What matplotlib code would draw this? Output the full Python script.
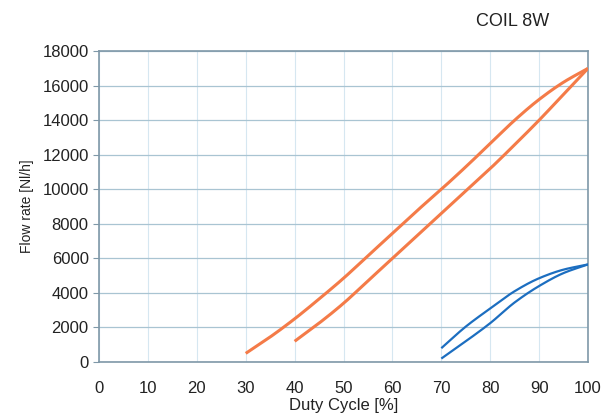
import matplotlib
matplotlib.use("Agg")
import matplotlib.pyplot as plt
import numpy as np

plt.rcParams['font.family'] = ['Liberation Sans', 'DejaVu Sans']

duty_orange_up = [30, 35, 40, 45, 50, 55, 60, 65, 70, 75, 80, 85, 90, 95, 100]
flow_orange_up = [500, 1450, 2500, 3650, 4850, 6150, 7450, 8750, 10000, 11300, 12650, 14000, 15200, 16200, 17000]
duty_orange_lo = [40, 45, 50, 55, 60, 65, 70, 75, 80, 85, 90, 95, 100]
flow_orange_lo = [1200, 2250, 3400, 4700, 6000, 7300, 8600, 9900, 11200, 12580, 14000, 15500, 17000]
duty_blue_up = [70, 75, 80, 85, 90, 95, 100]
flow_blue_up = [800, 2050, 3100, 4100, 4850, 5350, 5650]
duty_blue_lo = [70, 75, 80, 85, 90, 95, 100]
flow_blue_lo = [200, 1200, 2250, 3450, 4400, 5150, 5650]
x_ticks = [0, 10, 20, 30, 40, 50, 60, 70, 80, 90, 100]
y_ticks = [0, 2000, 4000, 6000, 8000, 10000, 12000, 14000, 16000, 18000]

orange = "#F47B48"
blue = "#1C6EC0"

fig = plt.figure(figsize=(6.04, 4.19), dpi=100)
ax = fig.add_axes([0.164, 0.136, 0.8095, 0.742])

def smooth(x, y):
    x = np.asarray(x, float); y = np.asarray(y, float)
    xs = np.linspace(x[0], x[-1], 200)
    h = np.diff(x); d = np.diff(y) / h
    m = np.zeros_like(y)
    m[0] = d[0]; m[-1] = d[-1]
    for i in range(1, len(y) - 1):
        if d[i-1] * d[i] <= 0:
            m[i] = 0
        else:
            w1 = 2*h[i] + h[i-1]; w2 = h[i] + 2*h[i-1]
            m[i] = (w1 + w2) / (w1/d[i-1] + w2/d[i])
    ys = np.empty_like(xs)
    for j, xv in enumerate(xs):
        k = min(np.searchsorted(x, xv, side="right") - 1, len(x) - 2)
        t = (xv - x[k]) / h[k]
        h00 = 2*t**3 - 3*t**2 + 1; h10 = t**3 - 2*t**2 + t
        h01 = -2*t**3 + 3*t**2; h11 = t**3 - t**2
        ys[j] = h00*y[k] + h10*h[k]*m[k] + h01*y[k+1] + h11*h[k]*m[k+1]
    return xs, ys

for dx, fy, c in [(duty_orange_up, flow_orange_up, orange),
                  (duty_orange_lo, flow_orange_lo, orange),
                  (duty_blue_up, flow_blue_up, blue),
                  (duty_blue_lo, flow_blue_lo, blue)]:
    xs, ys = smooth(dx, fy)
    ax.plot(xs, ys, color=c, lw=2.2 if c == orange else 1.6, solid_capstyle="butt", zorder=3)

ax.set_xlim(0, 100)
ax.set_ylim(0, 18000)
ax.set_xticks(x_ticks)
ax.set_yticks(y_ticks)
ax.tick_params(axis="both", labelsize=12, colors="#222222", length=4, width=0.8)
ax.tick_params(axis="x", length=0, pad=14)
ax.tick_params(axis="y", color="#7f98a8")
ax.grid(True, axis="x", color="#d6e7f1", lw=0.8)
ax.grid(True, axis="y", color="#a9c4d2", lw=0.9)
for s in ax.spines.values():
    s.set_color("#7f98a8")
    s.set_linewidth(1.2)

ax.set_xlabel("Duty Cycle [%]", fontsize=12, labelpad=1, color="#222222")
ax.set_ylabel("Flow rate [Nl/h]", fontsize=10, color="#222222", labelpad=6)
fig.text(0.848, 0.948, "COIL 8W", fontsize=13, ha="center", va="center", color="#222222")

fig.savefig("out.png", dpi=100)
